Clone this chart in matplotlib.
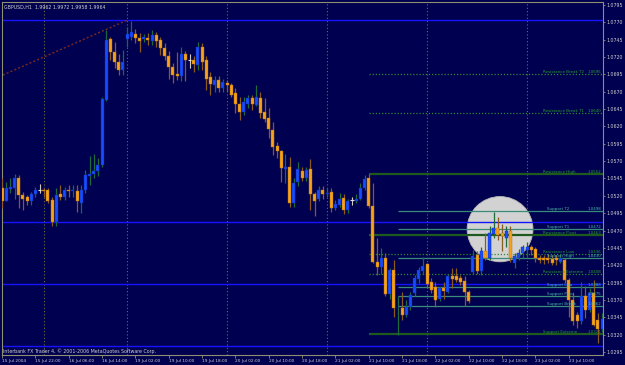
import numpy as np
import matplotlib
matplotlib.use("Agg")
import matplotlib.pyplot as plt
from matplotlib.patches import Ellipse
import matplotlib.transforms as mtransforms

plt.rcParams['font.family'] = ['Liberation Sans Narrow', 'DejaVu Sans']

# hourly GBPUSD bars, 15 Jul 2004 14:00 onwards
opens = [1.0531, 1.0513, 1.0530, 1.0532, 1.0546, 1.0521, 1.0519, 1.0512, 1.0522, 1.0528,
         1.0528, 1.0529, 1.0514, 1.0483, 1.0523, 1.0519, 1.0528, 1.0527, 1.0527, 1.0509,
         1.0528, 1.0548, 1.0552, 1.0556, 1.0565, 1.0658, 1.0746, 1.0727, 1.0713, 1.0701,
         1.0746, 1.0749, 1.0753, 1.0747, 1.0746, 1.0748, 1.0743, 1.0752, 1.0745, 1.0733,
         1.0722, 1.0706, 1.0695, 1.0692, 1.0725, 1.0716, 1.0716, 1.0709, 1.0735, 1.0716,
         1.0691, 1.0680, 1.0687, 1.0676, 1.0683, 1.0680, 1.0668, 1.0653, 1.0641, 1.0652,
         1.0661, 1.0651, 1.0661, 1.0641, 1.0632, 1.0615, 1.0592, 1.0585, 1.0559, 1.0562,
         1.0510, 1.0540, 1.0556, 1.0545, 1.0558, 1.0523, 1.0516, 1.0529, 1.0522, 1.0525,
         1.0503, 1.0507, 1.0517, 1.0499, 1.0514, 1.0512, 1.0516, 1.0531, 1.0545, 1.0505,
         1.0425, 1.0418, 1.0431, 1.0379, 1.0413, 1.0358, 1.0358, 1.0348, 1.0360, 1.0380,
         1.0400, 1.0412, 1.0422, 1.0396, 1.0389, 1.0371, 1.0387, 1.0382, 1.0405, 1.0404,
         1.0401, 1.0397, 1.0382, 1.0411, 1.0435, 1.0412, 1.0441, 1.0431, 1.0465, 1.0473,
         1.0466, 1.0459, 1.0470, 1.0423, 1.0431, 1.0437, 1.0442, 1.0446, 1.0443, 1.0431,
         1.0430, 1.0431, 1.0429, 1.0430, 1.0425, 1.0428, 1.0399, 1.0370, 1.0348, 1.0339,
         1.0375, 1.0356, 1.0380, 1.0341, 1.0328]
highs = [1.0545, 1.0540, 1.0545, 1.0551, 1.0550, 1.0526, 1.0521, 1.0526, 1.0533, 1.0537,
         1.0532, 1.0531, 1.0519, 1.0531, 1.0536, 1.0533, 1.0535, 1.0535, 1.0535, 1.0536,
         1.0557, 1.0577, 1.0580, 1.0574, 1.0663, 1.0759, 1.0749, 1.0742, 1.0725, 1.0730,
         1.0764, 1.0772, 1.0761, 1.0754, 1.0753, 1.0754, 1.0759, 1.0756, 1.0749, 1.0740,
         1.0728, 1.0711, 1.0727, 1.0735, 1.0728, 1.0725, 1.0721, 1.0742, 1.0740, 1.0721,
         1.0699, 1.0692, 1.0692, 1.0688, 1.0687, 1.0682, 1.0675, 1.0662, 1.0662, 1.0665,
         1.0665, 1.0680, 1.0670, 1.0661, 1.0647, 1.0627, 1.0598, 1.0586, 1.0581, 1.0576,
         1.0546, 1.0569, 1.0562, 1.0562, 1.0573, 1.0526, 1.0534, 1.0534, 1.0531, 1.0531,
         1.0514, 1.0524, 1.0523, 1.0516, 1.0518, 1.0522, 1.0538, 1.0550, 1.0552, 1.0539,
         1.0459, 1.0445, 1.0437, 1.0416, 1.0428, 1.0375, 1.0381, 1.0370, 1.0382, 1.0406,
         1.0418, 1.0432, 1.0423, 1.0401, 1.0396, 1.0389, 1.0396, 1.0408, 1.0416, 1.0416,
         1.0406, 1.0404, 1.0384, 1.0442, 1.0440, 1.0447, 1.0466, 1.0476, 1.0497, 1.0489,
         1.0480, 1.0476, 1.0476, 1.0437, 1.0444, 1.0449, 1.0454, 1.0449, 1.0447, 1.0435,
         1.0435, 1.0436, 1.0435, 1.0435, 1.0435, 1.0430, 1.0401, 1.0380, 1.0353, 1.0396,
         1.0390, 1.0387, 1.0399, 1.0351, 1.0351]
lows = [1.0502, 1.0512, 1.0524, 1.0516, 1.0502, 1.0500, 1.0507, 1.0507, 1.0519, 1.0524,
        1.0519, 1.0509, 1.0476, 1.0476, 1.0514, 1.0514, 1.0519, 1.0519, 1.0497, 1.0495,
        1.0524, 1.0536, 1.0546, 1.0548, 1.0562, 1.0656, 1.0716, 1.0704, 1.0694, 1.0694,
        1.0735, 1.0744, 1.0740, 1.0727, 1.0742, 1.0737, 1.0738, 1.0735, 1.0723, 1.0716,
        1.0689, 1.0682, 1.0687, 1.0685, 1.0685, 1.0704, 1.0698, 1.0701, 1.0701, 1.0673,
        1.0665, 1.0670, 1.0669, 1.0670, 1.0670, 1.0663, 1.0639, 1.0629, 1.0637, 1.0646,
        1.0644, 1.0649, 1.0632, 1.0627, 1.0603, 1.0579, 1.0574, 1.0540, 1.0538, 1.0504,
        1.0504, 1.0534, 1.0542, 1.0542, 1.0500, 1.0491, 1.0512, 1.0516, 1.0519, 1.0497,
        1.0500, 1.0504, 1.0494, 1.0496, 1.0507, 1.0510, 1.0514, 1.0528, 1.0502, 1.0423,
        1.0406, 1.0408, 1.0375, 1.0372, 1.0346, 1.0320, 1.0341, 1.0346, 1.0356, 1.0375,
        1.0394, 1.0408, 1.0389, 1.0380, 1.0360, 1.0368, 1.0371, 1.0380, 1.0387, 1.0396,
        1.0392, 1.0361, 1.0366, 1.0407, 1.0408, 1.0406, 1.0428, 1.0428, 1.0459, 1.0456,
        1.0441, 1.0447, 1.0425, 1.0416, 1.0428, 1.0430, 1.0432, 1.0435, 1.0425, 1.0423,
        1.0422, 1.0423, 1.0420, 1.0420, 1.0423, 1.0394, 1.0346, 1.0334, 1.0329, 1.0336,
        1.0344, 1.0353, 1.0332, 1.0308, 1.0324]
closes = [1.0513, 1.0531, 1.0533, 1.0545, 1.0521, 1.0515, 1.0512, 1.0522, 1.0528, 1.0528,
          1.0527, 1.0513, 1.0483, 1.0521, 1.0519, 1.0528, 1.0527, 1.0528, 1.0512, 1.0528,
          1.0550, 1.0552, 1.0556, 1.0565, 1.0660, 1.0745, 1.0727, 1.0713, 1.0701, 1.0713,
          1.0753, 1.0756, 1.0747, 1.0743, 1.0749, 1.0744, 1.0752, 1.0743, 1.0733, 1.0722,
          1.0706, 1.0694, 1.0692, 1.0724, 1.0716, 1.0716, 1.0710, 1.0735, 1.0713, 1.0689,
          1.0681, 1.0687, 1.0676, 1.0684, 1.0679, 1.0666, 1.0652, 1.0641, 1.0655, 1.0661,
          1.0652, 1.0662, 1.0640, 1.0631, 1.0616, 1.0591, 1.0585, 1.0560, 1.0562, 1.0510,
          1.0539, 1.0558, 1.0545, 1.0557, 1.0523, 1.0513, 1.0528, 1.0523, 1.0524, 1.0502,
          1.0508, 1.0516, 1.0499, 1.0512, 1.0514, 1.0516, 1.0531, 1.0544, 1.0505, 1.0425,
          1.0418, 1.0431, 1.0379, 1.0413, 1.0358, 1.0359, 1.0348, 1.0360, 1.0377, 1.0401,
          1.0413, 1.0419, 1.0393, 1.0385, 1.0370, 1.0387, 1.0383, 1.0404, 1.0400, 1.0399,
          1.0396, 1.0382, 1.0369, 1.0433, 1.0412, 1.0441, 1.0430, 1.0466, 1.0473, 1.0464,
          1.0462, 1.0470, 1.0430, 1.0433, 1.0438, 1.0446, 1.0447, 1.0442, 1.0430, 1.0428,
          1.0428, 1.0428, 1.0423, 1.0427, 1.0430, 1.0399, 1.0370, 1.0339, 1.0339, 1.0375,
          1.0356, 1.0380, 1.0334, 1.0328, 1.0342]

time_labels = ["15 Jul 2004", "15 Jul 22:00", "16 Jul 06:00", "16 Jul 14:00",
               "19 Jul 02:00", "19 Jul 10:00", "19 Jul 18:00", "20 Jul 02:00",
               "20 Jul 10:00", "20 Jul 18:00", "21 Jul 02:00", "21 Jul 10:00",
               "21 Jul 18:00", "22 Jul 02:00", "22 Jul 10:00", "22 Jul 18:00",
               "23 Jul 02:00", "23 Jul 10:00"]
label_bars = list(range(0, 8 * len(time_labels), 8))
day_bars = [10, 30, 54, 78, 102, 126]

# full-width blue lines
blue_levels = [1.0774, 1.0482, 1.0393, 1.0304]

# pivot levels
res_names = ["Resistance Break T2", "Resistance Break T1", "Resistance High",
             "Resistance Pivot", "Resistance Low", "Resistance Extreme"]
res_values = [1.0695, 1.0640, 1.0552, 1.0463, 1.0436, 1.0408]
res_styles = ["dotted", "dotted", "solid", "solid", "dotted", "dotted"]
sup_names = ["Support T2", "Support T1", "Support High", "Support Low",
             "Support Pivot", "Support Break"]
sup_values = [1.0498, 1.0472, 1.0430, 1.0388, 1.0375, 1.0362]
ext_name = "Support Extreme"
ext_value = 1.0321

trend_x = [0.2, 30]
trend_y = [1.0694, 1.0773]

BG = "#000050"
BULL = "#1a4cff"
BEAR = "#f5a21e"
FG = "#d0d0d0"

fig = plt.figure(figsize=(6.25, 3.65), dpi=100, facecolor=BG)
ax = fig.add_axes([2 / 625, 10 / 365, 601 / 625, 353 / 365], facecolor=BG)
renderer = fig.canvas.get_renderer()


def fit_size(sample, px):
    # font size that makes `sample` about px pixels wide
    t = fig.text(0, 0, sample, fontsize=10)
    w = t.get_window_extent(renderer).width
    t.remove()
    return 10 * px / w


fs_note = fit_size("Interbank FX Trader 4, \u00a9 2001-2006 MetaQuotes Software Corp.", 152)
fs_xt = fit_size("15 Jul 22:00", 25)
fs_yt = fit_size("1.0795", 16.5)
fs_lvl = fit_size("Support T2", 22)

n = len(opens)
x = np.arange(n)
o = np.array(opens)
h = np.array(highs)
l = np.array(lows)
c = np.array(closes)

# marked zone
ax.add_patch(Ellipse((119.5, 1.0472), 15.8, 0.0094, facecolor="#d2d2d2",
                     edgecolor="#b8b8b8", lw=0.6, zorder=1))

for v in day_bars:
    ax.axvline(v, color="#707040", lw=0.8, ls=(0, (1, 2)), zorder=0.5)

for v in blue_levels:
    ax.axhline(v, color="#1414ff", lw=1.0, zorder=2)

ax.plot(trend_x, trend_y, color="#7a2a20", lw=1.0, ls=(0, (1.5, 1.5)), zorder=2)

xs, xe = 88, 144.5
xs2 = 95
blend = mtransforms.blended_transform_factory(ax.transAxes, ax.transData)


def level_text(name, val, col, x0):
    ax.text(x0, val, name, transform=blend, color=col, fontsize=fs_lvl,
            ha="left", va="bottom", zorder=5)
    ax.text(0.997, val, "%.4f" % val, transform=blend, color=col, fontsize=fs_lvl,
            ha="right", va="bottom", zorder=5)


for name, val, st in zip(res_names, res_values, res_styles):
    if st == "solid":
        ax.hlines(val, xs, xe, color="#1e5a1e", lw=1.6, zorder=2)
    else:
        ax.hlines(val, xs, xe, color="#2e8a2e", lw=0.9, ls=(0, (1, 1.5)), zorder=2)
    level_text(name, val, "#2aa02a", 0.900)
for name, val in zip(sup_names, sup_values):
    ax.hlines(val, xs2, xe, color="#3a8c7a", lw=0.9, zorder=2)
    level_text(name, val, "#4ab8a4", 0.907)
ax.hlines(ext_value, xs, xe, color="#1e5a1e", lw=1.6, zorder=2)
level_text(ext_name, ext_value, "#2aa02a", 0.900)

# candles
up = c > o
dn = c < o
eq = c == o
ax.vlines(x[up], l[up], h[up], color="#1e6a3a", lw=0.9, zorder=3)
ax.vlines(x[~up], l[~up], h[~up], color="#8a5a20", lw=0.9, zorder=3)
minh = 0.00005
ax.bar(x[up], np.maximum(c[up] - o[up], minh), bottom=o[up], width=0.72,
       color=BULL, edgecolor="#0a2aa0", lw=0.3, zorder=4)
ax.bar(x[dn], np.maximum(o[dn] - c[dn], minh), bottom=c[dn], width=0.72,
       color=BEAR, edgecolor="#b07010", lw=0.3, zorder=4)
ax.hlines(c[eq], x[eq] - 0.4, x[eq] + 0.4, color="#e0e0e0", lw=0.8, zorder=4)
ax.vlines(x[eq], l[eq], h[eq], color="#e0e0e0", lw=0.6, zorder=4)

ax.set_xlim(0.17, 144.2)
ax.set_ylim(1.02907, 1.07993)

yt = np.round(np.arange(1.0295, 1.0796, 0.0025), 4)
ax.yaxis.tick_right()
ax.set_yticks(yt)
ax.set_yticklabels(["%.4f" % v for v in yt])
ax.set_xticks(label_bars)
ax.set_xticklabels(time_labels, ha="left")
ax.tick_params(axis="both", colors="#909070", labelcolor=FG, length=2,
               width=0.6, pad=1)
ax.tick_params(axis="x", labelsize=fs_xt)
ax.tick_params(axis="y", labelsize=fs_yt, length=1.5, pad=1.2)
for s in ax.spines.values():
    s.set_color("#909070")
    s.set_linewidth(0.8)

ax.text(0.004, 0.993, "GBPUSD,H1  1.9962 1.9972 1.9958 1.9964", transform=ax.transAxes,
        color=FG, fontsize=fs_note, ha="left", va="top", zorder=6)
ax.text(0.002, 0.004, "Interbank FX Trader 4, \u00a9 2001-2006 MetaQuotes Software Corp.",
        transform=ax.transAxes, color=FG, fontsize=fs_note, ha="left", va="bottom", zorder=6)

fig.savefig("out.png", dpi=100, facecolor=BG)
